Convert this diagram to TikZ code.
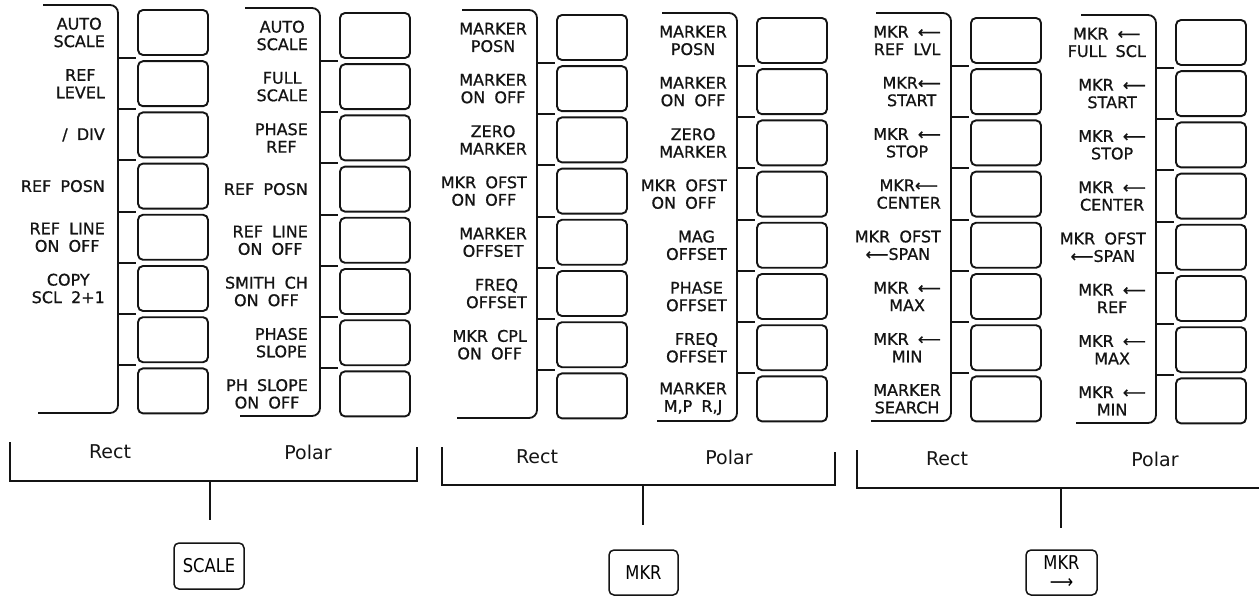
\documentclass[tikz,border=0pt]{standalone}
\usepackage{fontspec}
\setmainfont{DejaVu Sans}
\newfontfamily\lblfont[WordSpace=1.8, FakeBold=0.8]{DejaVu Sans}
\newfontfamily\keyfont[FakeStretch=0.86]{DejaVu Sans}
\usepackage{tikz}
\usetikzlibrary{positioning, calc}
\definecolor{myink}{RGB}{20,20,20}
\tikzset{
  softkey/.style={rectangle, draw=myink, line width=1.9pt,
    minimum width=70pt, minimum height=45pt, inner sep=0pt, rounded corners=5pt},
  keylabel/.style={align=center, inner sep=0pt, text=myink,
    font=\lblfont\fontsize{16}{17.5}\selectfont},
  bracket/.style={draw=myink, line width=1.8pt, rounded corners=8pt},
  tick/.style={draw=myink, line width=2.1pt},
  group/.style={draw=myink, line width=1.4pt},
  modelabel/.style={inner sep=0pt, text=myink, font=\fontsize{19}{22}\selectfont},
  hardkey/.style={rectangle, draw=myink, line width=1.5pt, rounded corners=5pt,
    minimum width=70pt, minimum height=46pt, inner sep=0pt, align=center,
    font=\keyfont\fontsize{19}{16}\selectfont}
}

\begin{document}
\begin{tikzpicture}[x=1pt, y=-1pt]
  \useasboundingbox[fill=white] (0,0) rectangle (1259,596);

  % Softkey panels: bracket, eight keys, ticks between keys
  \foreach \p/\bx/\ty in {1/118/5, 2/320/8, 3/537/10, 4/737/13, 5/951/13, 6/1156/15} {
    \draw[bracket] (\bx-75,\ty) -- (\bx,\ty) -- (\bx,\ty+408) -- (\bx-80,\ty+408);
    \foreach \k in {1,...,8}
      \node[softkey] (p\p-\k) at (\bx+55, \ty+27.5+51.2*\k-51.2) {};
    \foreach \k in {1,...,7}
      \draw[tick] (\bx, \ty+53+51.2*\k-51.2) -- ++(18,0);
  }

  % Scale, Rect
  \foreach \k/\t in {1/{AUTO\\SCALE}, 2/{REF\\LEVEL}, 3/{/ DIV}, 4/{REF POSN},
      5/{REF LINE\\ON OFF}, 6/{COPY\\SCL 2+1}}
    \node[keylabel, left=32pt of p1-\k] (p1-\k t) {\t};

  % Scale, Polar
  \foreach \k/\t in {1/{AUTO\\SCALE}, 2/{FULL\\SCALE}, 3/{PHASE\\REF}, 4/{REF POSN},
      5/{REF LINE\\ON OFF}, 6/{SMITH CH\\ON OFF}, 7/{PHASE\\SLOPE}, 8/{PH SLOPE\\ON OFF}}
    \node[keylabel, left=31pt of p2-\k] (p2-\k t) {\t};

  % Marker, Rect
  \foreach \k/\t in {1/{MARKER\\POSN}, 2/{MARKER\\ON OFF}, 3/{ZERO\\MARKER},
      4/{MKR OFST\\ON OFF}, 5/{MARKER\\OFFSET}, 6/{FREQ\\OFFSET}, 7/{MKR CPL\\ON OFF}}
    \node[keylabel, left=29pt of p3-\k] (p3-\k t) {\t};

  % Marker, Polar
  \foreach \k/\t in {1/{MARKER\\POSN}, 2/{MARKER\\ON OFF}, 3/{ZERO\\MARKER},
      4/{MKR OFST\\ON OFF}, 5/{MAG\\OFFSET}, 6/{PHASE\\OFFSET}, 7/{FREQ\\OFFSET},
      8/{MARKER\\M,P R,J}}
    \node[keylabel, left=29pt of p4-\k] (p4-\k t) {\t};

  % Marker function, Rect
  \foreach \k/\t in {1/{MKR ⟵\\REF LVL}, 2/{MKR⟵\\START}, 3/{MKR ⟵\\STOP},
      4/{MKR⟵\\CENTER}, 5/{MKR OFST\\⟵SPAN}, 6/{MKR ⟵\\MAX}, 7/{MKR ⟵\\MIN},
      8/{MARKER\\SEARCH}}
    \node[keylabel, left=29pt of p5-\k] (p5-\k t) {\t};

  % Marker function, Polar
  \foreach \k/\t in {1/{MKR ⟵\\FULL SCL}, 2/{MKR ⟵\\START}, 3/{MKR ⟵\\STOP},
      4/{MKR ⟵\\CENTER}, 5/{MKR OFST\\⟵SPAN}, 6/{MKR ⟵\\REF}, 7/{MKR ⟵\\MAX},
      8/{MKR ⟵\\MIN}}
    \node[keylabel, left=29pt of p6-\k] (p6-\k t) {\t};

  % Group brackets
  \draw[group] (10,442) -- (10,481) -- (417,481) -- (417,447);
  \draw[group] (442,447) -- (442,485) -- (835,485) -- (835,452);
  \draw[group] (857,450) -- (857,488) -- (1259,488);
  \node[modelabel] (g1r) at (110,452) {Rect};
  \node[modelabel] (g1p) at (308,452) {Polar};
  \node[modelabel] (g2r) at (537,457) {Rect};
  \node[modelabel] (g2p) at (729,457) {Polar};
  \node[modelabel] (g3r) at (947,459) {Rect};
  \node[modelabel] (g3p) at (1155,459) {Polar};

  % Hard keys
  \node[hardkey] (scale) at (209,566) {SCALE};
  \node[hardkey, minimum width=69pt, minimum height=45pt] (mkr) at (643.5,572.5) {MKR};
  \node[hardkey, minimum width=71pt, minimum height=45pt] (mkrfn) at (1061.5,572.5) {MKR\\[3pt]⟶};

  % Stems
  \coordinate (g1) at (210,481);  \coordinate (g1e) at (210,520);
  \coordinate (g2) at (643,485);  \coordinate (g2e) at (643,525);
  \coordinate (g3) at (1061,488); \coordinate (g3e) at (1061,528);
  \draw[group] (g1) -- (g1e);
  \draw[group] (g2) -- (g2e);
  \draw[group] (g3) -- (g3e);
\end{tikzpicture}
\end{document}
